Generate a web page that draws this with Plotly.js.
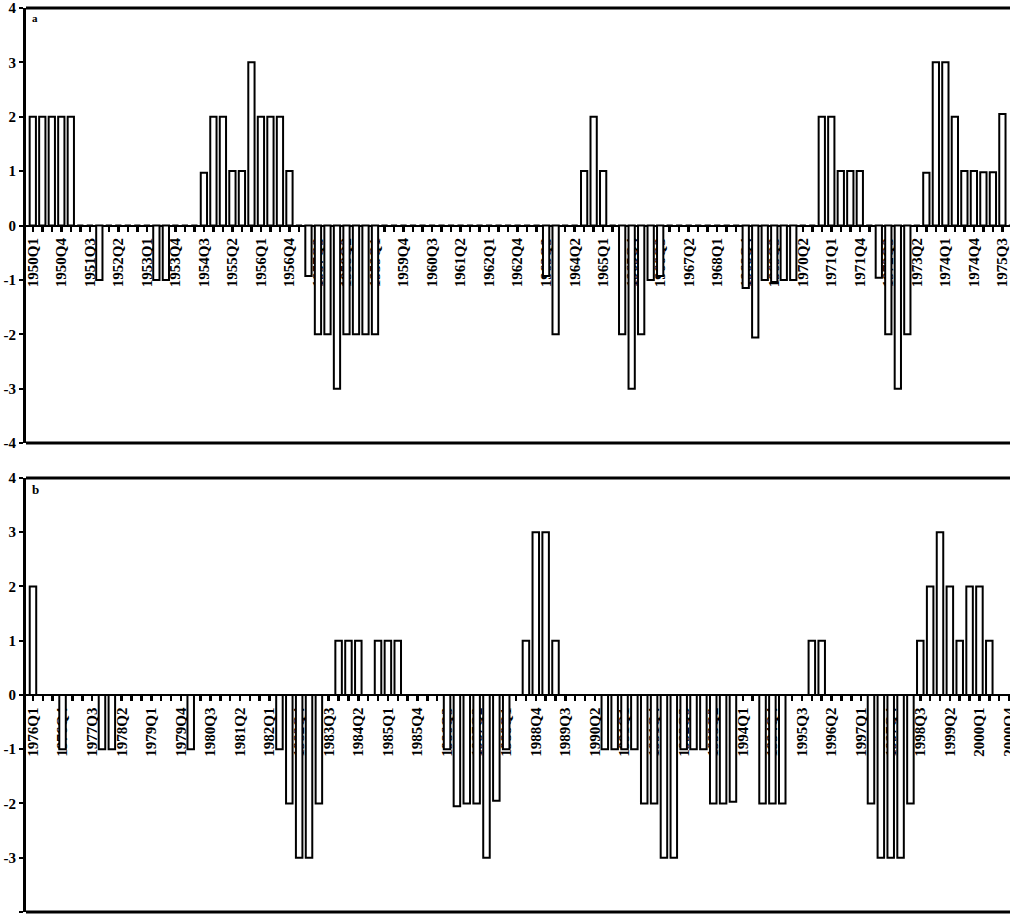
<!DOCTYPE html>
<html><head><meta charset="utf-8">
<script src="https://cdn.plot.ly/plotly-3.0.1.min.js"></script>
<style>html,body{margin:0;padding:0;background:#fff;overflow:hidden}#chart{width:1010px;height:915px}</style>
</head><body><div id="chart"></div>
<script>
const quartersA = [
'1950Q1','1950Q2','1950Q3','1950Q4','1951Q1','1951Q2','1951Q3','1951Q4',
'1952Q1','1952Q2','1952Q3','1952Q4','1953Q1','1953Q2','1953Q3','1953Q4',
'1954Q1','1954Q2','1954Q3','1954Q4','1955Q1','1955Q2','1955Q3','1955Q4',
'1956Q1','1956Q2','1956Q3','1956Q4','1957Q1','1957Q2','1957Q3','1957Q4',
'1958Q1','1958Q2','1958Q3','1958Q4','1959Q1','1959Q2','1959Q3','1959Q4',
'1960Q1','1960Q2','1960Q3','1960Q4','1961Q1','1961Q2','1961Q3','1961Q4',
'1962Q1','1962Q2','1962Q3','1962Q4','1963Q1','1963Q2','1963Q3','1963Q4',
'1964Q1','1964Q2','1964Q3','1964Q4','1965Q1','1965Q2','1965Q3','1965Q4',
'1966Q1','1966Q2','1966Q3','1966Q4','1967Q1','1967Q2','1967Q3','1967Q4',
'1968Q1','1968Q2','1968Q3','1968Q4','1969Q1','1969Q2','1969Q3','1969Q4',
'1970Q1','1970Q2','1970Q3','1970Q4','1971Q1','1971Q2','1971Q3','1971Q4',
'1972Q1','1972Q2','1972Q3','1972Q4','1973Q1','1973Q2','1973Q3','1973Q4',
'1974Q1','1974Q2','1974Q3','1974Q4','1975Q1','1975Q2','1975Q3','1975Q4'];
const valuesA = [
2,2,2,2, 2,0,0,-1, 0,0,0,0, 0,-1,-1,0,
0,0,0.97,2, 2,1,1,3, 2,2,2,1, 0,-0.93,-2,-2,
-3,-2,-2,-2, -2,0,0,0, 0,0,0,0, 0,0,0,0,
0,0,0,0, 0,0,-0.93,-2, 0,0,1,2, 1,0,-2,-3,
-2,-1,-0.93,0, 0,0,0,0, 0,0,0,-1.15, -2.06,-1,-1.04,-1,
-1,0,0,2, 2,1,1,1, 0,-0.96,-2,-3, -2,0,0.97,3,
3,2,1,1, 0.98,0.98,2.05,0];
const tickLabelsA = ['1950Q1','1950Q4','1951Q3','1952Q2','1953Q1','1953Q4','1954Q3','1955Q2','1956Q1','1956Q4','1957Q3','1958Q2','1959Q1','1959Q4','1960Q3','1961Q2','1962Q1','1962Q4','1963Q3','1964Q2','1965Q1','1965Q4','1966Q3','1967Q2','1968Q1','1968Q4','1969Q3','1970Q2','1971Q1','1971Q4','1972Q3','1973Q2','1974Q1','1974Q4','1975Q3'];

const quartersB = [
'1976Q1','1976Q2','1976Q3','1976Q4','1977Q1','1977Q2','1977Q3','1977Q4',
'1978Q1','1978Q2','1978Q3','1978Q4','1979Q1','1979Q2','1979Q3','1979Q4',
'1980Q1','1980Q2','1980Q3','1980Q4','1981Q1','1981Q2','1981Q3','1981Q4',
'1982Q1','1982Q2','1982Q3','1982Q4','1983Q1','1983Q2','1983Q3','1983Q4',
'1984Q1','1984Q2','1984Q3','1984Q4','1985Q1','1985Q2','1985Q3','1985Q4',
'1986Q1','1986Q2','1986Q3','1986Q4','1987Q1','1987Q2','1987Q3','1987Q4',
'1988Q1','1988Q2','1988Q3','1988Q4','1989Q1','1989Q2','1989Q3','1989Q4',
'1990Q1','1990Q2','1990Q3','1990Q4','1991Q1','1991Q2','1991Q3','1991Q4',
'1992Q1','1992Q2','1992Q3','1992Q4','1993Q1','1993Q2','1993Q3','1993Q4',
'1994Q1','1994Q2','1994Q3','1994Q4','1995Q1','1995Q2','1995Q3','1995Q4',
'1996Q1','1996Q2','1996Q3','1996Q4','1997Q1','1997Q2','1997Q3','1997Q4',
'1998Q1','1998Q2','1998Q3','1998Q4','1999Q1','1999Q2','1999Q3','1999Q4',
'2000Q1','2000Q2','2000Q3','2000Q4'];
const valuesB = [
2,0,0,-1, 0,0,0,-1, -1,0,0,0, 0,0,0,0,
-1,0,0,0, 0,0,0,0, 0,-1,-2,-3, -3,-2,0,1,
1,1,0,1, 1,1,0,0, 0,0,-1,-2.05, -2,-2,-3,-1.95,
-1,0,1,3, 3,1,0,0, 0,0,-1,-1, -1,-1,-2,-2,
-3,-3,-1,-1, -1,-2,-2,-1.97, 0,0,-2,-2, -2,0,0,1,
1,0,0,0, 0,-2,-3,-3, -3,-2,1,2, 3,2,1,2,
2,1,0,0];
const tickLabelsB = ['1976Q1','1976Q4','1977Q3','1978Q2','1979Q1','1979Q4','1980Q3','1981Q2','1982Q1','1982Q4','1983Q3','1984Q2','1985Q1','1985Q4','1986Q3','1987Q2','1988Q1','1988Q4','1989Q3','1990Q2','1991Q1','1991Q4','1992Q3','1993Q2','1994Q1','1994Q4','1995Q3','1996Q2','1997Q1','1997Q4','1998Q3','1999Q2','2000Q1','2000Q4'];

const yTickVals = [-4,-3,-2,-1,0,1,2,3,4];
const yTickText = ['-4','-3','-2','-1','0','1','2','3','4'];
const panelLabels = ['a','b'];

const FONT = 'Liberation Serif, Times New Roman, serif';
function barTrace(x, y, xa, ya) {
  return {type:'bar', x:x, y:y, xaxis:xa, yaxis:ya, width:0.66,
    marker:{color:'#ffffff', line:{color:'#000000', width:2}}, hoverinfo:'x+y'};
}
function xAxis(cats, labels, pos, range) {
  return {type:'category', anchor:'free', position:pos, domain:[0,1], range:range,
    tickmode:'array', tickvals:cats, ticktext:cats.map(q => labels.includes(q) ? q : ''),
    tickangle:-90, ticks:'outside', ticklen:5, tickwidth:2.5, tickcolor:'#000',
    showline:true, linecolor:'#000', linewidth:2.5, showgrid:false, zeroline:false,
    layer:'below traces', fixedrange:true,
    tickfont:{family:FONT, size:15, color:'#000', weight:700}};
}
function yAxis(dom) {
  return {domain:dom, range:[-4,4], tickmode:'array', tickvals:yTickVals, ticktext:yTickText,
    ticks:'outside', ticklen:4, tickwidth:2, tickcolor:'#000', showline:true, linecolor:'#000',
    linewidth:3, showgrid:false, zeroline:false, fixedrange:true,
    tickfont:{family:FONT, size:15, color:'#000', weight:700}};
}
const domA = [0.5158, 0.9913], domB = [0.0033, 0.4776];
const data = [barTrace(quartersA, valuesA, 'x', 'y'), barTrace(quartersB, valuesB, 'x2', 'y2')];
const borders = [];
[['y', 1], ['y', 0], ['y2', 1], ['y2', 0]].forEach(([ya, v]) => {
  borders.push({type:'line', xref:'paper', yref:ya + ' domain', x0:0, x1:1, y0:v, y1:v,
    line:{color:'#000', width:3}});
});
const layout = {
  width:1010, height:915, margin:{l:26, r:0, t:0, b:0},
  paper_bgcolor:'#fff', plot_bgcolor:'#fff', showlegend:false, bargap:0.3,
  xaxis: xAxis(quartersA, tickLabelsA, (domA[0]+domA[1])/2, [-0.714, 102.8]),
  yaxis: yAxis(domA),
  xaxis2: xAxis(quartersB, tickLabelsB, (domB[0]+domB[1])/2, [-0.707, 99.1]),
  yaxis2: yAxis(domB),
  shapes: borders,
  annotations: [
    {text:panelLabels[0], xref:'x domain', yref:'y domain', x:0, y:1, xanchor:'left', yanchor:'top',
     xshift:4, yshift:-2, showarrow:false, font:{family:FONT, size:11, color:'#000', weight:700}},
    {text:panelLabels[1], xref:'x2 domain', yref:'y2 domain', x:0, y:1, xanchor:'left', yanchor:'top',
     xshift:4, yshift:-2, showarrow:false, font:{family:FONT, size:13, color:'#000', weight:700}}
  ]
};
Plotly.newPlot('chart', data, layout, {displayModeBar:false, staticPlot:true});
</script>
</body></html>
